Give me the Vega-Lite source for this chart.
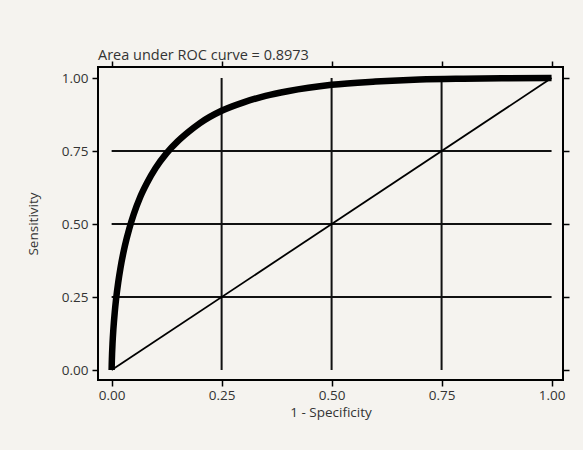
{
  "$schema": "https://vega.github.io/schema/vega-lite/v6.json",
  "width": 465,
  "height": 313,
  "autosize": {"type": "none"},
  "padding": {"left": 98, "top": 67, "right": 20, "bottom": 70},
  "background": "#f5f3ef",
  "config": {
    "view": {"stroke": "#000", "strokeWidth": 2},
    "font": "Open Sans",
    "axis": {
      "domain": false,
      "grid": false,
      "tickSize": 6,
      "tickColor": "#000",
      "tickWidth": 1.5,
      "labelFont": "Open Sans",
      "labelFontSize": 13.5,
      "labelColor": "#333",
      "titleFont": "Open Sans",
      "titleFontSize": 13.5,
      "titleFontWeight": "normal",
      "titleColor": "#333",
      "labelFlush": false,
      "labelOverlap": false
    }
  },
  "title": {
    "text": "Area under ROC curve = 0.8973",
    "anchor": "start",
    "frame": "group",
    "fontSize": 14.5,
    "fontWeight": "normal",
    "color": "#333",
    "font": "Open Sans",
    "offset": -3
  },
  "datasets": {
    "roc": [
      {"fpr": 0, "tpr": 0},
      {"fpr": 0.0002, "tpr": 0.018},
      {"fpr": 0.0005, "tpr": 0.035},
      {"fpr": 0.001, "tpr": 0.057},
      {"fpr": 0.002, "tpr": 0.091},
      {"fpr": 0.004, "tpr": 0.141},
      {"fpr": 0.007, "tpr": 0.197},
      {"fpr": 0.01, "tpr": 0.242},
      {"fpr": 0.015, "tpr": 0.301},
      {"fpr": 0.02, "tpr": 0.349},
      {"fpr": 0.03, "tpr": 0.425},
      {"fpr": 0.04, "tpr": 0.484},
      {"fpr": 0.05, "tpr": 0.533},
      {"fpr": 0.065, "tpr": 0.593},
      {"fpr": 0.08, "tpr": 0.64},
      {"fpr": 0.1, "tpr": 0.692},
      {"fpr": 0.125, "tpr": 0.743},
      {"fpr": 0.15, "tpr": 0.783},
      {"fpr": 0.175, "tpr": 0.816},
      {"fpr": 0.2, "tpr": 0.845},
      {"fpr": 0.25, "tpr": 0.888},
      {"fpr": 0.3, "tpr": 0.917},
      {"fpr": 0.35, "tpr": 0.939},
      {"fpr": 0.4, "tpr": 0.955},
      {"fpr": 0.5, "tpr": 0.977},
      {"fpr": 0.6, "tpr": 0.988},
      {"fpr": 0.7, "tpr": 0.995},
      {"fpr": 0.8, "tpr": 0.998},
      {"fpr": 0.9, "tpr": 0.9997},
      {"fpr": 1, "tpr": 1}
    ],
    "diag": [
      {"fpr": 0, "tpr": 0},
      {"fpr": 1, "tpr": 1}
    ],
    "grid": [
      {"v": 0.25},
      {"v": 0.5},
      {"v": 0.75}
    ]
  },
  "layer": [
    {
      "data": {"name": "grid"},
      "mark": {"type": "rule", "color": "#111", "strokeWidth": 2},
      "encoding": {
        "x": {"field": "v", "type": "quantitative", "axis": null},
        "y": {"datum": 0, "type": "quantitative", "axis": null},
        "y2": {"datum": 1}
      }
    },
    {
      "data": {"name": "grid"},
      "mark": {"type": "rule", "color": "#111", "strokeWidth": 2},
      "encoding": {
        "y": {"field": "v", "type": "quantitative", "axis": null},
        "x": {"datum": 0, "type": "quantitative", "axis": null},
        "x2": {"datum": 1}
      }
    },
    {
      "data": {"name": "diag"},
      "mark": {"type": "line", "color": "#000", "strokeWidth": 1.8},
      "encoding": {
        "x": {
          "field": "fpr",
          "type": "quantitative",
          "scale": {"domain": [-0.031, 1.026], "nice": false, "zero": false},
          "axis": {"orient": "top", "labels": false, "title": null, "values": [0, 0.25, 0.5, 0.75, 1]}
        },
        "y": {
          "field": "tpr",
          "type": "quantitative",
          "scale": {"domain": [-0.034, 1.038], "nice": false, "zero": false},
          "axis": {"orient": "right", "labels": false, "title": null, "values": [0, 0.25, 0.5, 0.75, 1]}
        }
      }
    },
    {
      "data": {"name": "roc"},
      "mark": {"type": "line", "color": "#000", "strokeWidth": 6.5, "interpolate": "monotone", "strokeCap": "butt", "strokeJoin": "round"},
      "encoding": {
        "x": {
          "field": "fpr",
          "type": "quantitative",
          "scale": {"domain": [-0.031, 1.026], "nice": false, "zero": false},
          "axis": {"orient": "bottom", "title": "1 - Specificity", "values": [0, 0.25, 0.5, 0.75, 1], "format": ".2f", "labelPadding": 2, "titlePadding": 4}
        },
        "y": {
          "field": "tpr",
          "type": "quantitative",
          "scale": {"domain": [-0.034, 1.038], "nice": false, "zero": false},
          "axis": {"orient": "left", "title": "Sensitivity", "values": [0, 0.25, 0.5, 0.75, 1], "format": ".2f", "labelPadding": 4, "titlePadding": 21}
        }
      }
    }
  ],
  "resolve": {"axis": {"x": "independent", "y": "independent"}}
}
